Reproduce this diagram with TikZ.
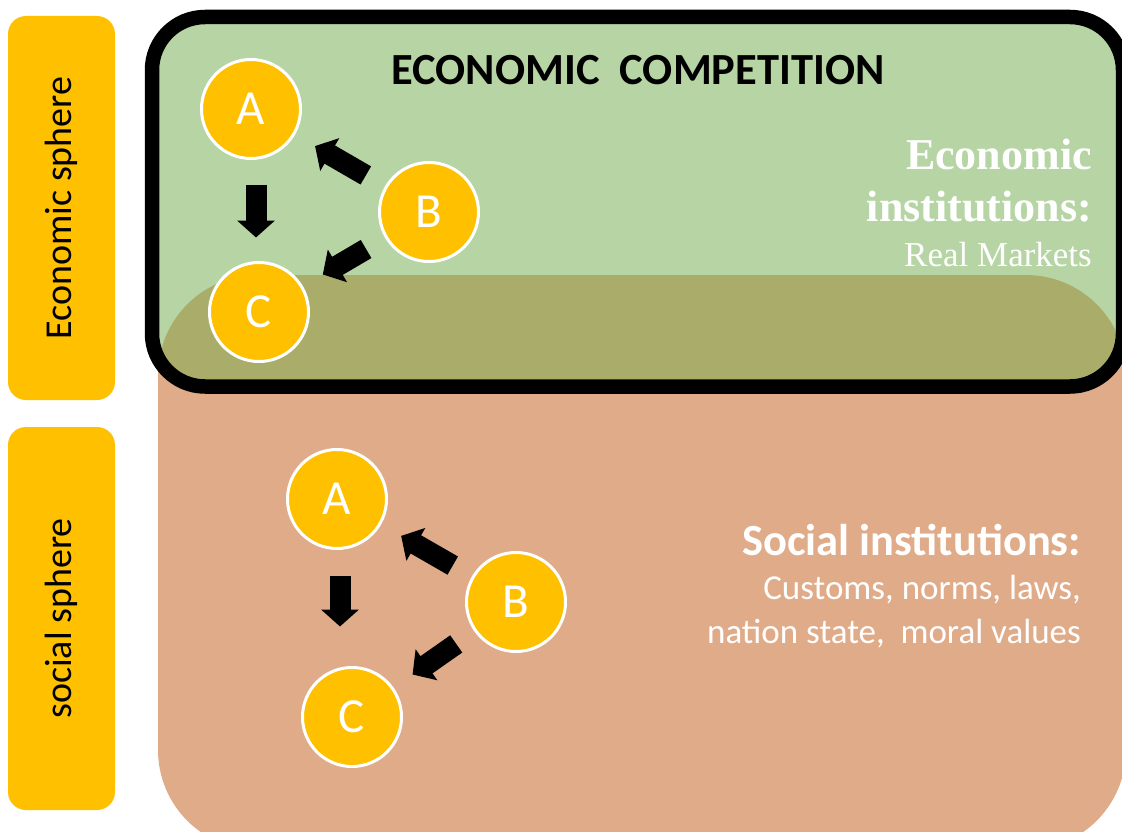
\documentclass[tikz,border=0pt]{standalone}
\usepackage{fontspec}
\setmainfont{Carlito}
\newfontfamily\carl{Carlito}
\newfontfamily\tnr{Liberation Serif}
\usetikzlibrary{arrows.meta}
\definecolor{ylw}{HTML}{FFC000}
\definecolor{grn}{HTML}{B7D5A4}
\definecolor{olv}{HTML}{AAAD6A}
\definecolor{brn}{HTML}{E0AB89}
\begin{document}
\begin{tikzpicture}[x=1pt,y=-1pt,
  spherelab/.style={rotate=90, fill=ylw, rounded corners=18pt, minimum height=107pt, inner sep=0pt, text=black, font=\carl\fontsize{38}{38}\selectfont},
  circ/.style={circle, fill=ylw, draw=white, line width=3pt, minimum size=99pt, inner sep=0pt, text=white, font=\carl\fontsize{49}{49}\selectfont},
  blk/.style={line width=21pt, -{Triangle[length=17pt,width=37pt]}, shorten <=22pt, shorten >=23pt},
  wtxt/.style={anchor=base east, inner sep=0pt, text=white}
]
\useasboundingbox (0,0) rectangle (1122,832);
\fill[white] (0,0) rectangle (1122,832);
\begin{scope}
\clip (0,0) rectangle (1122,832);
% social sphere region
\fill[brn, rounded corners=100pt] (158,275) rectangle (1126,850);
% economic sphere box
\fill[grn, rounded corners=53pt] (152,17) rectangle (1123,386.5);
\begin{scope}
\clip[rounded corners=53pt] (152,17) rectangle (1123,386.5);
\fill[olv, rounded corners=100pt] (158,275) rectangle (1126,850);
\end{scope}
\draw[black, line width=14.5pt, rounded corners=53pt] (152,17) rectangle (1123,386.5);
\end{scope}

% side labels
\node[spherelab, minimum width=384pt] (econlab) at (61.5,208) {Economic sphere};
\node[spherelab, minimum width=383pt] (soclab) at (61.5,618.5) {social sphere};

% top actors
\node[circ] (A1) at (251,109) {A};
\node[circ] (B1) at (429,212) {B};
\node[circ] (C1) at (259,312) {C};
\coordinate (m1) at (256,0);
\draw[blk, shorten <=24.5pt, shorten >=23.5pt] (A1.south -| m1) -- (C1.north -| m1);
\draw[blk] (B1) -- (A1);
\draw[blk] (B1) -- (C1);

% bottom actors
\node[circ] (A2) at (337,499) {A};
\node[circ] (B2) at (516,602) {B};
\node[circ] (C2) at (352,717) {C};
\coordinate (m2) at (340,0);
\draw[blk, shorten <=25.5pt, shorten >=39.5pt] (A2.south -| m2) -- (C2.north -| m2);
\draw[blk] (B2) -- (A2);
\draw[blk] (B2) -- (C2);

% texts
\node[anchor=base, inner sep=0pt, font=\carl\bfseries\fontsize{44.5}{44.5}\selectfont] (title) at (638,85) {ECONOMIC\ \ COMPETITION};
\node[wtxt, font=\tnr\bfseries\fontsize{44}{44}\selectfont] (ei1) at (1092,169) {Economic};
\node[wtxt, font=\tnr\bfseries\fontsize{44}{44}\selectfont] (ei2) at (1092,221) {institutions:};
\node[wtxt, font=\tnr\fontsize{35}{35}\selectfont] (ei3) at (1092,266) {Real Markets};
\node[wtxt, font=\carl\bfseries\fontsize{44.5}{44.5}\selectfont] (si1) at (1081,555) {Social institutions:};
\node[wtxt, font=\carl\fontsize{35}{35}\selectfont] (si2) at (1081,599) {Customs, norms, laws,};
\node[wtxt, font=\carl\fontsize{35}{35}\selectfont] (si3) at (1081,643) {nation state,\ \ moral values};
\end{tikzpicture}
\end{document}
